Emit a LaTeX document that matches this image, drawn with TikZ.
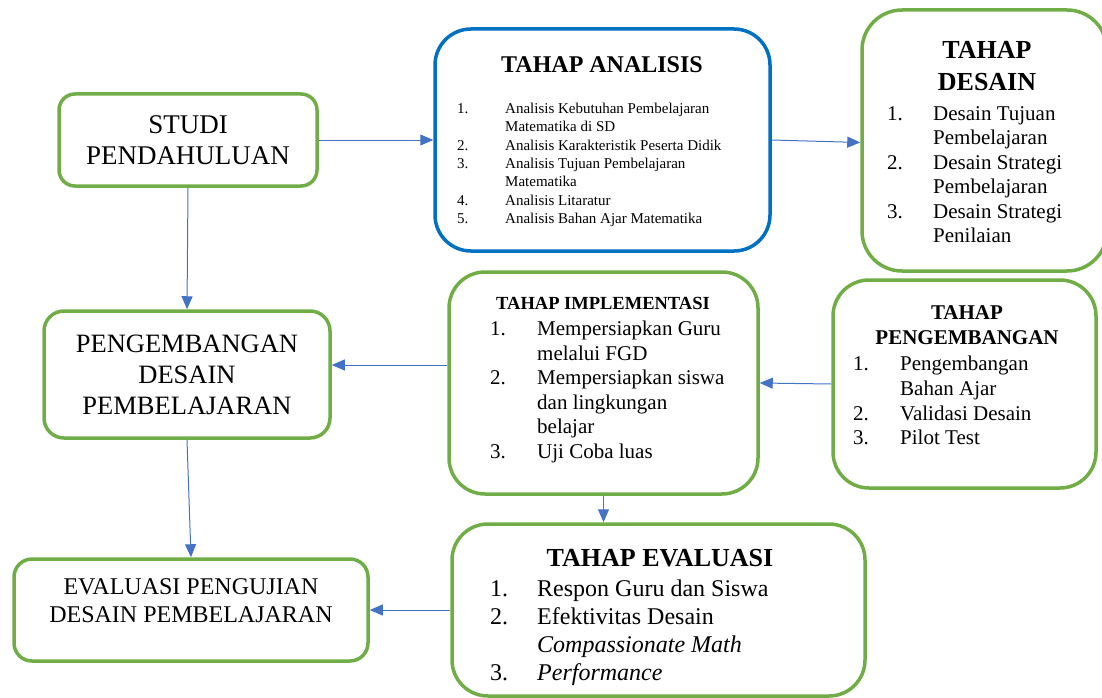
\documentclass[tikz,border=0pt]{standalone}
\usepackage{fontspec}
\setmainfont{Liberation Serif}
\usetikzlibrary{arrows.meta}
\definecolor{gboxc}{HTML}{70AD47}
\definecolor{bboxc}{HTML}{0070C0}
\definecolor{arrc}{HTML}{4472C4}
\newcommand\fsz[2]{\fontsize{#1}{#2}\selectfont}
\newcommand\nmb[2]{\makebox[#1][l]{#2}}
\begin{document}
\begin{tikzpicture}[x=1pt,y=-1pt,
  greenbox/.style={draw=gboxc, line width=3.5pt, fill=white, inner sep=0pt, rounded corners=#1},
  bluebox/.style={draw=bboxc, line width=3.5pt, fill=white, inner sep=0pt, rounded corners=#1},
  txt/.style={inner sep=0pt, text=black},
  listtxt/.style={inner sep=0pt, text=black, align=left, anchor=north west},
  arr/.style={draw=arrc, line width=1pt, -{Triangle[length=13pt,width=11pt]}}
]
\useasboundingbox (0,0) rectangle (1102,698);

% boxes
\node[greenbox=16pt, minimum width=258pt, minimum height=92pt, align=center,
      font=\fsz{27}{31}] (studi) at (188,140) {STUDI\\PENDAHULUAN};
\node[greenbox=20pt, minimum width=286pt, minimum height=127pt, align=center,
      font=\fsz{26.5}{31}] (pdes) at (187,374.5) {PENGEMBANGAN\\DESAIN\\PEMBELAJARAN};
\node[greenbox=18pt, minimum width=354pt, minimum height=102pt] (evp) at (191,610) {};
\node[bluebox=36pt, minimum width=335pt, minimum height=222pt] (anl) at (602.5,140) {};
\node[greenbox=40pt, minimum width=245pt, minimum height=261pt] (des) at (984.5,140.5) {};
\node[greenbox=36pt, minimum width=309pt, minimum height=222pt] (imp) at (603.5,383) {};
\node[greenbox=36pt, minimum width=263pt, minimum height=208pt] (tpg) at (964.5,384) {};
\node[greenbox=36pt, minimum width=413pt, minimum height=172pt] (eva) at (658.5,610) {};

% texts
\node[txt, align=center, font=\fsz{24}{28}] (evpT) at (191,601) {EVALUASI PENGUJIAN\\DESAIN PEMBELAJARAN};

\node[txt, font=\fsz{24}{28}\bfseries] (anlT) at (602,65) {TAHAP ANALISIS};
\node[listtxt, font=\fsz{15}{18.3}] (anlL) at (457,103) {%
\nmb{48pt}{1.}Analisis Kebutuhan Pembelajaran\\
\nmb{48pt}{}Matematika di SD\\
\nmb{48pt}{2.}Analisis Karakteristik Peserta Didik\\
\nmb{48pt}{3.}Analisis Tujuan Pembelajaran\\
\nmb{48pt}{}Matematika\\
\nmb{48pt}{4.}Analisis Litaratur\\
\nmb{48pt}{5.}Analisis Bahan Ajar Matematika};

\node[txt, align=center, font=\fsz{26}{32}\bfseries] (desT) at (987,66) {TAHAP\\DESAIN};
\node[listtxt, font=\fsz{21}{24.5}] (desL) at (887,106) {%
\nmb{46pt}{1.}Desain Tujuan\\
\nmb{46pt}{}Pembelajaran\\
\nmb{46pt}{2.}Desain Strategi\\
\nmb{46pt}{}Pembelajaran\\
\nmb{46pt}{3.}Desain Strategi\\
\nmb{46pt}{}Penilaian};

\node[txt, font=\fsz{18.5}{22}\bfseries] (impT) at (603,303) {TAHAP IMPLEMENTASI};
\node[listtxt, font=\fsz{21}{24.5}] (impL) at (490,321) {%
\nmb{47pt}{1.}Mempersiapkan Guru\\
\nmb{47pt}{}melalui FGD\\
\nmb{47pt}{2.}Mempersiapkan siswa\\
\nmb{47pt}{}dan lingkungan\\
\nmb{47pt}{}belajar\\
\nmb{47pt}{3.}Uji Coba luas};

\node[txt, align=center, font=\fsz{21}{25}\bfseries] (tpgT) at (967,325.5) {TAHAP\\PENGEMBANGAN};
\node[listtxt, font=\fsz{21}{24.7}] (tpgL) at (853,356) {%
\nmb{47pt}{1.}Pengembangan\\
\nmb{47pt}{}Bahan Ajar\\
\nmb{47pt}{2.}Validasi Desain\\
\nmb{47pt}{3.}Pilot Test};

\node[txt, font=\fsz{26}{30}\bfseries] (evaT) at (660,558) {TAHAP EVALUASI};
\node[listtxt, font=\fsz{24}{28}] (evaL) at (490,580) {%
\nmb{47pt}{1.}Respon Guru dan Siswa\\
\nmb{47pt}{2.}Efektivitas Desain\\
\nmb{47pt}{}\textit{Compassionate Math}\\
\nmb{47pt}{3.}\textit{Performance}};

% connectors
\draw[arr] (studi.east) -- (anl.west);
\draw[arr] (anl.east) -- ([yshift=-2pt]des.west);
\draw[arr] (studi.south) -- (pdes.north);
\draw[arr] ([yshift=18pt]imp.west) -- ([yshift=9.5pt]pdes.east);
\draw[arr] (tpg.west) -- (imp.east);
\draw[arr] (imp.south) -- (imp.south |- eva.north);
\draw[arr] (pdes.south) -- (evp.north);
\draw[arr] (eva.west) -- (evp.east);
\end{tikzpicture}
\end{document}
